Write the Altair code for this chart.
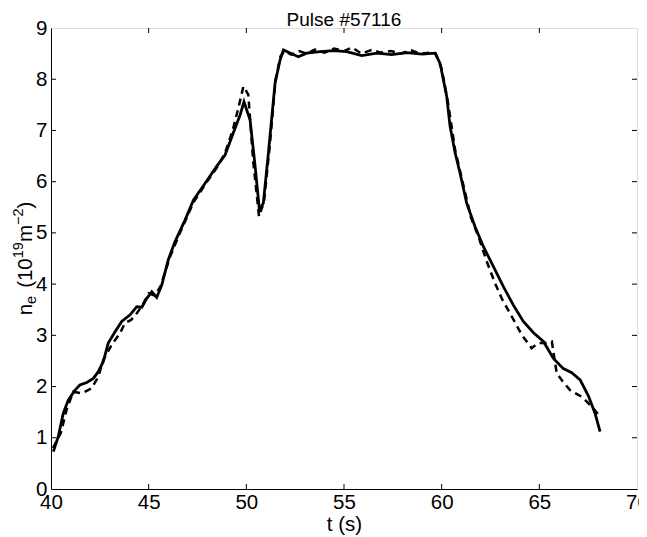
import altair as alt
import pandas as pd

# ---- data ----
t_solid = [40.12, 40.37, 40.63, 40.89, 41.23, 41.48, 41.83, 42.17, 42.42, 42.68,
           42.93, 43.28, 43.62, 44.05, 44.39, 44.65, 44.9, 45.16, 45.41, 45.67,
           46.0, 46.35, 46.86, 47.29, 47.89, 48.48, 48.91, 49.33, 49.68, 49.88,
           50.19, 50.45, 50.67, 50.87, 51.13, 51.47, 51.73, 51.9, 52.24, 52.66,
           53.09, 53.77, 54.46, 55.14, 55.91, 56.68, 57.44, 58.21, 59.0, 59.66,
           59.92, 60.26, 60.43, 60.69, 60.94, 61.28, 61.71, 62.14, 62.65, 63.16,
           63.67, 64.18, 64.7, 65.21, 65.72, 66.23, 66.66, 67.09, 67.51, 67.85, 68.11]
v_solid = [0.73, 1.02, 1.48, 1.74, 1.93, 2.03, 2.08, 2.16, 2.29, 2.49,
           2.85, 3.07, 3.27, 3.40, 3.56, 3.55, 3.72, 3.85, 3.74, 3.98,
           4.47, 4.83, 5.25, 5.64, 5.97, 6.30, 6.52, 6.95, 7.30, 7.56,
           7.21, 6.30, 5.45, 5.58, 6.56, 7.92, 8.38, 8.57, 8.51, 8.44,
           8.51, 8.54, 8.56, 8.54, 8.46, 8.51, 8.48, 8.52, 8.49, 8.51,
           8.31, 7.66, 7.08, 6.56, 6.17, 5.58, 5.12, 4.73, 4.34, 3.95,
           3.59, 3.27, 3.05, 2.88, 2.55, 2.35, 2.27, 2.13, 1.82, 1.48, 1.12]

t_dash = [40.1, 40.5, 40.8, 41.14, 41.57, 41.9, 42.08, 42.42, 42.68, 43.1,
          43.53, 43.79, 44.1, 44.39, 44.7, 45.0, 45.3, 45.6, 46.1, 46.6,
          47.3, 47.9, 48.5, 48.9, 49.3, 49.6, 49.85, 50.1, 50.35, 50.65,
          50.9, 51.2, 51.5, 51.75, 51.95, 52.3, 52.7, 53.1, 53.5, 54.0,
          54.5, 55.0, 55.4, 55.9, 56.4, 56.9, 57.4, 57.9, 58.4, 58.9,
          59.4, 59.7, 60.0, 60.3, 60.7, 61.1, 61.5, 61.88, 62.3, 62.73,
          63.1, 63.5, 64.1, 64.6, 64.95, 65.3, 65.64, 65.89, 66.2, 66.57,
          67.17, 67.69, 68.11]
v_dash = [0.8, 1.09, 1.55, 1.9, 1.87, 1.93, 1.97, 2.19, 2.52, 2.81,
          3.04, 3.24, 3.3, 3.43, 3.6, 3.82, 3.78, 3.95, 4.54, 5.0,
          5.6, 5.95, 6.28, 6.55, 7.0, 7.45, 7.86, 7.7, 6.4, 5.32,
          5.6, 6.7, 8.0, 8.45, 8.55, 8.48, 8.55, 8.5, 8.58, 8.52,
          8.6, 8.55, 8.62, 8.5, 8.57, 8.52, 8.55, 8.5, 8.57, 8.5,
          8.52, 8.5, 8.2, 7.6, 6.6, 5.95, 5.3, 4.93, 4.45, 4.02,
          3.7, 3.43, 3.01, 2.75, 2.85, 2.85, 2.88, 2.26, 2.1, 1.93,
          1.8, 1.61, 1.41]

x_ticks = [40, 45, 50, 55, 60, 65, 70]
y_ticks = [0, 1, 2, 3, 4, 5, 6, 7, 8, 9]

chart_title = "Pulse #57116"
x_title = "t  (s)"
# y title pieces: (text, is_small, shift) shift: 0 normal, -1 subscript, +1 superscript
# a piece of None text is a blank gap
y_title_parts = [("n", False, 0), ("e", True, -1), (None, False, 0), ("(10", False, 0),
                 ("19", True, 1), ("m", False, 0), ("\u22122", True, 1), (")", False, 0)]

W, H = 586, 461
FONT = "Liberation Sans"
FS = 20.5
FS_TITLE = 19
FS_SMALL = 14.5
GAP = 8

solid_df = pd.DataFrame({"t": t_solid, "v": v_solid})
dash_df = pd.DataFrame({"t": t_dash, "v": v_dash})
xt_df = pd.DataFrame({"t": x_ticks[1:-1]})
yt_df = pd.DataFrame({"v": y_ticks[1:-1]})

X = alt.X("t:Q",
          scale=alt.Scale(domain=[40, 70], nice=False, zero=False),
          axis=alt.Axis(values=x_ticks, title=x_title, grid=False, ticks=False,
                        labelFlush=False, labelPadding=3, labelFontSize=FS,
                        labelFont=FONT, labelColor="black",
                        titleFont=FONT, titleFontSize=FS, titleFontWeight="normal",
                        titleColor="black", titleX=W / 2, titleY=41,
                        titleBaseline="alphabetic",
                        domainColor="black", domainWidth=1))
Y = alt.Y("v:Q",
          scale=alt.Scale(domain=[0, 9], nice=False, zero=False),
          axis=alt.Axis(values=y_ticks, title=None, grid=False, ticks=False,
                        labelFlush=False, labelPadding=4, labelFontSize=FS,
                        labelFont=FONT, labelColor="black",
                        domainColor="black", domainWidth=1))

solid = alt.Chart(solid_df).mark_line(color="black", strokeWidth=2.8).encode(x=X, y=Y)
dashed = alt.Chart(dash_df).mark_line(color="black", strokeWidth=2.5,
                                      strokeDash=[7, 5]).encode(x=X, y=Y)

tick_style = dict(color="black", strokeWidth=1)
xb = alt.Chart(xt_df).mark_rule(**tick_style).encode(x=X, y=alt.value(H), y2=alt.value(H - 5))
xtp = alt.Chart(xt_df).mark_rule(**tick_style).encode(x=X, y=alt.value(0), y2=alt.value(5))
yl = alt.Chart(yt_df).mark_rule(**tick_style).encode(y=Y, x=alt.value(0), x2=alt.value(5))
yr = alt.Chart(yt_df).mark_rule(**tick_style).encode(y=Y, x=alt.value(W), x2=alt.value(W - 5))

# chart title as a text mark centred over the plot area
title_layer = alt.Chart(pd.DataFrame({"s": [chart_title]})).mark_text(
    font=FONT, fontSize=FS_TITLE, color="black", align="center", baseline="alphabetic"
).encode(text="s:N", x=alt.value(W / 2), y=alt.value(-2.5))

# rotated y-axis title built from pieces (normal / sub / superscript)
CHAR_W = {" ": 0.278, "(": 0.333, ")": 0.333, "n": 0.556, "e": 0.556, "m": 0.833,
          "\u2212": 0.584}
def text_width(s, size):
    if s is None:
        return GAP
    return sum(CHAR_W.get(c, 0.556) for c in s) * size

widths = [text_width(s, FS_SMALL if small else FS) for s, small, _ in y_title_parts]
total = sum(widths)
pos = H / 2 + total / 2
y_layers = []
for (s, small, shift), w in zip(y_title_parts, widths):
    if s is not None:
        base_x = -19 + (4 if shift < 0 else (-9 if shift > 0 else 0))
        y_layers.append(
            alt.Chart(pd.DataFrame({"s": [s]})).mark_text(
                font=FONT, fontSize=FS_SMALL if small else FS, color="black",
                align="left", baseline="alphabetic", angle=270
            ).encode(text="s:N", x=alt.value(base_x), y=alt.value(pos))
        )
    pos -= w

chart = alt.layer(xb, xtp, yl, yr, dashed, solid, title_layer, *y_layers).properties(
    width=W, height=H,
    autosize=alt.AutoSizeParams(type="none"),
    padding={"left": 43, "top": 20, "right": 2, "bottom": 48},
).configure_view(stroke="black", strokeWidth=1).configure(background="white")

chart.save("out.html", embed_options={"renderer": "svg", "actions": False})
